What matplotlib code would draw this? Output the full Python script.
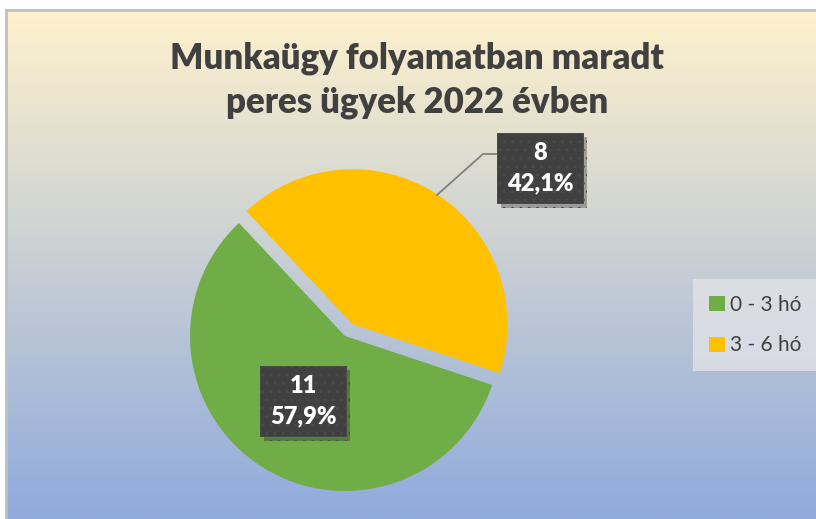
import numpy as np
import matplotlib.pyplot as plt
import matplotlib.patheffects as pe

# data
labels = ['0 - 3 hó', '3 - 6 hó']
counts = [11, 8]
colors = ['#70AD47', '#FFC000']
title = 'Munkaügy folyamatban maradt\nperes ügyek 2022 évben'

W, H = 816, 519
plt.rcParams['font.family'] = ['Lato', 'DejaVu Sans']

fig = plt.figure(figsize=(W / 100, H / 100), dpi=100)
fig.patch.set_facecolor('white')

# background axes in pixel coordinates
bg = fig.add_axes([0, 0, 1, 1])
bg.set_xlim(0, W)
bg.set_ylim(H, 0)
bg.axis('off')
top = np.array([255, 242, 204]) / 255
bot = np.array([143, 170, 220]) / 255
t = np.linspace(0, 1, 256)[:, None, None]
grad = top * (1 - t) + bot * t
grad = np.repeat(grad, 2, axis=1)
bg.imshow(grad, extent=[6, W + 2, H, 9], aspect='auto', zorder=0)
bg.plot([6, 6], [H, 9.5], color='#BFBFBF', lw=2, zorder=1)
bg.plot([6, W], [9.5, 9.5], color='#BFBFBF', lw=2, zorder=1)

bg.text(417, 80, title, ha='center', va='center', fontsize=25, fontweight='heavy',
        color='#404040', linespacing=1.38)

# pie axes: center (345, 336), radius 155 px
cx, cy, r = 345, 336, 155
half = 1.2 * r
ax = fig.add_axes([(cx - half) / W, (H - cy - half) / H, 2 * half / W, 2 * half / H])
ax.axis('off')
wedges, _ = ax.pie(counts, colors=colors, startangle=-18.4, counterclock=False,
                   explode=[0, 0.09], radius=1.0, center=(0, 0), frame=False)
ax.set_xlim(-1.2, 1.2)
ax.set_ylim(-1.2, 1.2)
ax.set_aspect('equal')

# overlay axes for labels, same pixel coordinates as bg
ov = fig.add_axes([0, 0, 1, 1])
ov.set_xlim(0, W)
ov.set_ylim(H, 0)
ov.axis('off')
ov.patch.set_alpha(0)

total = sum(counts)
label_pos = [(303, 401), (540, 168)]
for n, (x, y) in zip(counts, label_pos):
    txt = f'{n}\n{n / total * 100:.1f}%'.replace('.', ',')
    tt = ov.text(x, y, txt, ha='center', va='center', fontsize=17, fontweight='heavy',
                 color='white', linespacing=1.45, zorder=5,
                 bbox=dict(boxstyle='square,pad=0.4', facecolor='#404040',
                           edgecolor='#4a4a4a', hatch='..', lw=0.5))
    tt.get_bbox_patch().set_path_effects([pe.withSimplePatchShadow(offset=(3, -3), alpha=0.3),
                                          pe.Normal()])

# leader line for the small slice
ov.plot([437, 483, 496], [195, 154, 154], color='#808080', lw=1.3, zorder=4)

leg = fig.legend(wedges, labels, loc='center', bbox_to_anchor=(755 / W, 1 - 325 / H),
                 frameon=True, fancybox=False, fontsize=15, handlelength=0.75,
                 handleheight=0.75, handletextpad=0.25, labelspacing=1.0,
                 borderpad=0.75, labelcolor='#404040')
leg.get_frame().set_facecolor('#E4E4E8')
leg.get_frame().set_alpha(0.75)
leg.get_frame().set_edgecolor('none')

fig.savefig('out.png', dpi=100)
